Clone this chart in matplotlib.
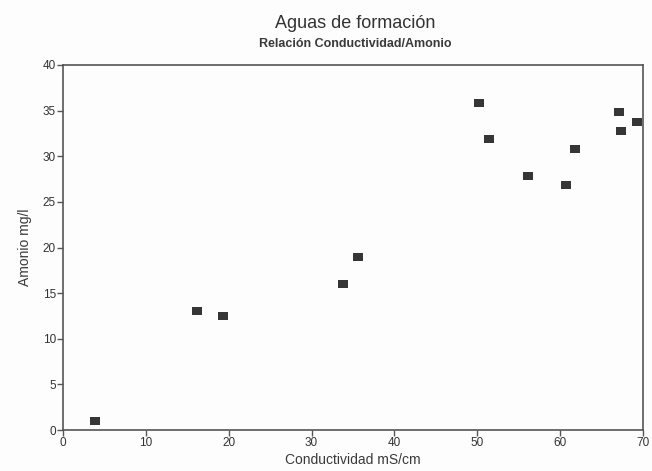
import matplotlib
matplotlib.use("Agg")
import matplotlib.pyplot as plt

# Conductivity (mS/cm) vs ammonium (mg/l) for formation waters
conductividad = [3.9, 16.2, 19.3, 33.8, 35.6, 50.2, 51.4, 56.1, 60.7, 61.8, 67.1, 67.4, 69.3]
amonio = [1.0, 13.0, 12.5, 16.0, 19.0, 35.8, 31.9, 27.8, 26.8, 30.8, 34.8, 32.8, 33.8]

x_ticks = [0, 10, 20, 30, 40, 50, 60, 70]
y_ticks = [0, 5, 10, 15, 20, 25, 30, 35, 40]

plt.rcParams['font.family'] = ['Liberation Sans', 'DejaVu Sans']

fig = plt.figure(figsize=(6.52, 4.71), dpi=100)
fig.patch.set_facecolor('#fdfdfd')
ax = fig.add_axes([0.0966, 0.087, 0.8894, 0.775])
ax.set_facecolor('#fdfdfd')

rect = [(-1, -0.8), (1, -0.8), (1, 0.8), (-1, 0.8), (-1, -0.8)]
ax.scatter(conductividad, amonio, marker=rect, s=42, color='#363636', linewidths=0, zorder=3)

ax.set_xlim(0, 70)
ax.set_ylim(0, 40)
ax.set_xticks(x_ticks)
ax.set_yticks(y_ticks)
ax.tick_params(axis='both', direction='out', length=4, width=1, color='#555555',
               labelsize=8.5, labelcolor='#333333', pad=1)
ax.tick_params(top=False, right=False)
for s in ax.spines.values():
    s.set_color('#555555')
    s.set_linewidth(1.2)

ax.set_xlabel('Conductividad mS/cm', fontsize=10, color='#3a3a3a', labelpad=3)
ax.set_ylabel('Amonio mg/l', fontsize=10, color='#3a3a3a', labelpad=8)

fig.text(0.545, 0.950, 'Aguas de formación', ha='center', va='center', fontsize=13, color='#333333')
fig.text(0.545, 0.906, 'Relación Conductividad/Amonio', ha='center', va='center', fontsize=9,
         fontweight='bold', color='#3a3a3a')

fig.savefig('out.png', dpi=100, facecolor=fig.get_facecolor())
